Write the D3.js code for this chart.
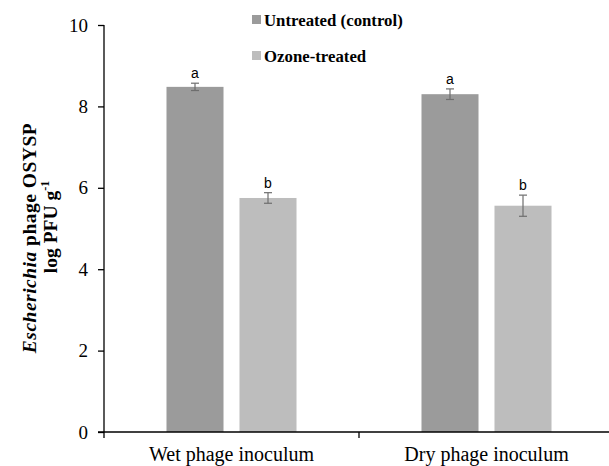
<!DOCTYPE html>
<html><head><meta charset="utf-8">
<script src="https://cdn.jsdelivr.net/npm/d3@7"></script>
<style>html,body{margin:0;padding:0;background:#fff;}svg{display:block;}</style>
</head><body>
<svg id="chart" width="609" height="466"></svg>
<script>
const categories = ["Wet phage inoculum", "Dry phage inoculum"];
const seriesNames = ["Untreated (control)", "Ozone-treated"];
const untreated = [8.48, 8.30];
const ozone = [5.75, 5.56];
const untreatedErr = [0.09, 0.13];
const ozoneErr = [0.13, 0.26];
const untreatedLetters = ["a", "a"];
const ozoneLetters = ["b", "b"];
const yTicks = [0, 2, 4, 6, 8, 10];
const colors = ["#9b9b9b", "#bdbdbd"];

const svg = d3.select("#chart");
const x0 = 104, x1 = 614, yTop = 25, yBot = 432;
const x = d3.scaleBand().domain(categories).range([x0, x1]).paddingInner(0).paddingOuter(0);
const xs = d3.scaleBand().domain(seriesNames).range([0, x.bandwidth()]).paddingInner(0.219).paddingOuter(0.856);
const y = d3.scaleLinear().domain([0, 10]).range([yBot, yTop]);

const data = [];
categories.forEach((c, i) => {
  data.push({c, s: seriesNames[0], v: untreated[i], e: untreatedErr[i], l: untreatedLetters[i], col: colors[0]});
  data.push({c, s: seriesNames[1], v: ozone[i], e: ozoneErr[i], l: ozoneLetters[i], col: colors[1]});
});

// bars
svg.append("g").selectAll("rect").data(data).join("rect")
  .attr("x", d => x(d.c) + xs(d.s))
  .attr("width", xs.bandwidth())
  .attr("y", d => y(d.v))
  .attr("height", d => y(0) - y(d.v))
  .attr("fill", d => d.col);

// error bars
const eg = svg.append("g").attr("stroke", "#6e6e6e").attr("stroke-width", 1.2);
data.forEach(d => {
  const cx = x(d.c) + xs(d.s) + xs.bandwidth() / 2;
  eg.append("line").attr("x1", cx).attr("x2", cx).attr("y1", y(d.v + d.e)).attr("y2", y(d.v - d.e));
  eg.append("line").attr("x1", cx - 4).attr("x2", cx + 4).attr("y1", y(d.v + d.e)).attr("y2", y(d.v + d.e));
  eg.append("line").attr("x1", cx - 4).attr("x2", cx + 4).attr("y1", y(d.v - d.e)).attr("y2", y(d.v - d.e));
});

// letters
svg.append("g").selectAll("text").data(data).join("text")
  .attr("x", d => x(d.c) + xs(d.s) + xs.bandwidth() / 2)
  .attr("y", d => y(d.v + d.e) - 5)
  .attr("text-anchor", "middle")
  .attr("font-family", "Liberation Sans, Arial, sans-serif")
  .attr("font-size", 14)
  .attr("fill", "#000")
  .text(d => d.l);

// y axis
const yAxis = d3.axisLeft(y).tickValues(yTicks).tickSize(6).tickPadding(10).tickFormat(d3.format("d"));
const gy = svg.append("g").attr("transform", `translate(${x0},0)`).call(yAxis);
gy.select(".domain").attr("stroke", "#000").attr("stroke-width", 1.3).attr("d", `M0,${yTop}H0V${yBot}`);
gy.selectAll(".tick line").attr("stroke", "#000").attr("stroke-width", 1.3);
gy.selectAll(".tick text").attr("font-family", "Liberation Serif, Times New Roman, serif").attr("font-size", 19).attr("fill", "#000");

// x axis
const xAxis = d3.axisBottom(x).tickSize(0).tickPadding(0).tickFormat("");
const gx = svg.append("g").attr("transform", `translate(0,${yBot})`).call(xAxis);
gx.select(".domain").attr("stroke", "#000").attr("stroke-width", 1.3).attr("d", `M${x0 - 6},0H${x1}`);
gx.selectAll(".tick").remove();
[x0, x(categories[1])].forEach(px => {
  gx.append("line").attr("x1", px).attr("x2", px).attr("y1", 0).attr("y2", 6).attr("stroke", "#000").attr("stroke-width", 1.3);
});
gx.selectAll("text.cat").data(categories).join("text").attr("class", "cat")
  .attr("x", d => x(d) + x.bandwidth() / 2)
  .attr("y", 29)
  .attr("text-anchor", "middle")
  .attr("font-family", "Liberation Serif, Times New Roman, serif")
  .attr("font-size", 20)
  .attr("fill", "#000")
  .text(d => d);

// y title
const yt = svg.append("text")
  .attr("transform", "translate(36,238) rotate(-90)")
  .attr("text-anchor", "middle")
  .attr("font-family", "Liberation Serif, Times New Roman, serif")
  .attr("font-size", 19.5)
  .attr("font-weight", "bold")
  .attr("letter-spacing", 0.5)
  .attr("fill", "#000");
yt.append("tspan").attr("font-style", "italic").text("Escherichia");
yt.append("tspan").text(" phage OSYSP");
const yt2 = svg.append("text")
  .attr("transform", "translate(57,227) rotate(-90)")
  .attr("text-anchor", "middle")
  .attr("font-family", "Liberation Serif, Times New Roman, serif")
  .attr("font-size", 19.5)
  .attr("font-weight", "bold")
  .attr("fill", "#000");
yt2.append("tspan").text("log PFU g");
yt2.append("tspan").attr("font-size", 12).attr("dy", -8).text("-1");

// legend
const lg = svg.append("g");
const legBase = [26, 62];
seriesNames.forEach((s, i) => {
  lg.append("rect").attr("x", 252).attr("y", legBase[i] - 11).attr("width", 9).attr("height", 9).attr("fill", colors[i]);
  lg.append("text").attr("x", 264).attr("y", legBase[i])
    .attr("font-family", "Liberation Serif, Times New Roman, serif")
    .attr("font-size", 16.8).attr("font-weight", "bold").attr("fill", "#000")
    .text(s);
});
</script>
</body></html>
